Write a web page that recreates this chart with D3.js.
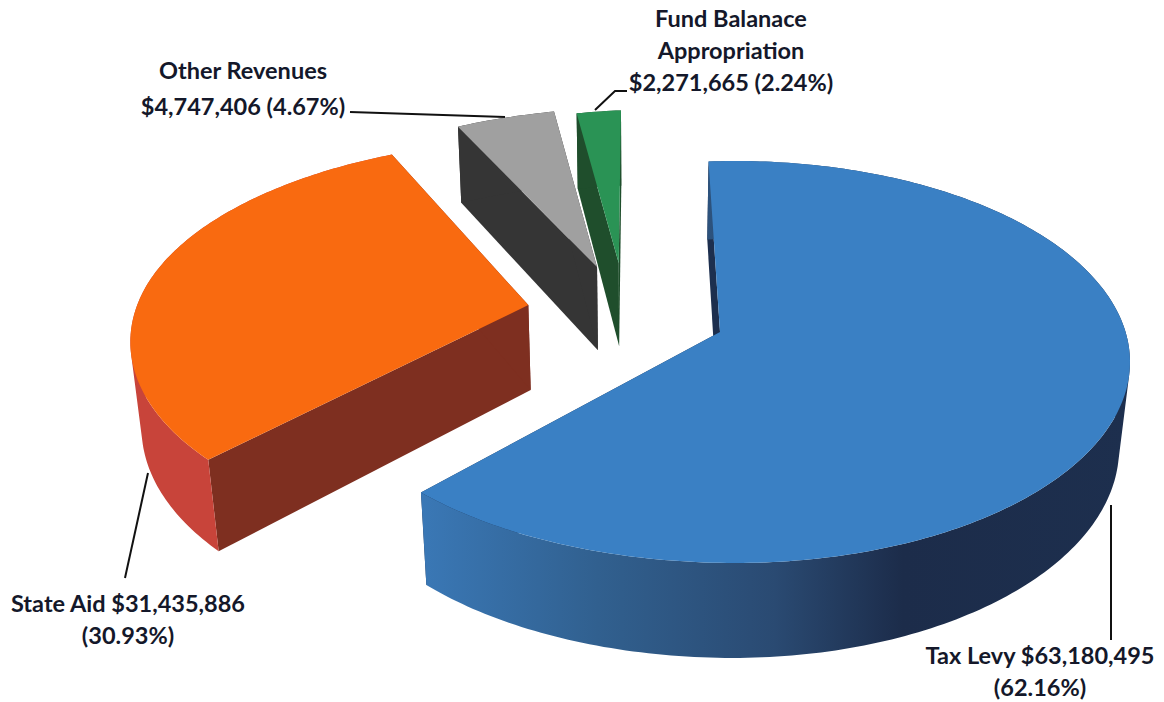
<!DOCTYPE html>
<html>
<head>
<meta charset="utf-8">
<script src="https://cdnjs.cloudflare.com/ajax/libs/d3/7.8.5/d3.min.js"></script>
<style>
  html, body { margin: 0; padding: 0; background: #fff; }
  text { font-family: Lato, "Open Sans", sans-serif; font-weight: 700; fill: #14182a; text-anchor: middle; }
</style>
</head>
<body>
<svg width="1164" height="702"></svg>
<script>
const categories = ['Tax Levy', 'State Aid', 'Other Revenues', 'Fund Balanace Appropriation'];
const amounts = [63180495, 31435886, 4747406, 2271665];
const labelLines = [
  ['Tax Levy $63,180,495', '(62.16%)'],
  ['State Aid $31,435,886', '(30.93%)'],
  ['Other Revenues', '$4,747,406 (4.67%)'],
  ['Fund Balanace', 'Appropriation', '$2,271,665 (2.24%)']
];

// styling for each slice
const topColors = ['#3a80c4', '#f96a10', '#a0a0a0', '#2a9355'];
const sideColors = ['#1d2f4e', '#7e2f20', '#353535', '#1f4e2c'];
const rimColors = [null, '#c8443a', '#353535', '#1f4e2c'];
// slice shift on the pie plane, pie radius = 1
const shifts = [[0, 0], [-0.512, 0.144], [-0.337, 0.353], [-0.278, 0.375]];
// the left side of the picture is nearer to the camera
const leftStretch = [1.05, 1.11, 1.08, 1.0];
const farStretch = [1, 1.03, 1.04, 1.0];
const nearStretch = [1, 1.072, 1, 1];
const depthShear = [0, 0.05, 0, 0];
const labelAnchors = [[1040, 664], [128, 612], [243, 79], [731, 27]];
const leaders = [
  [[1111, 505], [1111, 640]],
  [[148, 473], [125, 578]],
  [[350, 112], [505, 117]],
  [[627, 91], [615, 91], [595, 110]]
];

const ellipse = {cx: 735, cy: 362, rx: 395, ry: 201};
const apex = {x: 720, y: 332};
const vanish = {x: 640, y: 3300, lean: 0.75};
const startDeg = -2;

const xScale = d3.scaleLinear().domain([-1, 1]).range([ellipse.cx - ellipse.rx, ellipse.cx + ellipse.rx]);
const yScale = d3.scaleLinear().domain([-1, 1]).range([ellipse.cy + ellipse.ry, ellipse.cy - ellipse.ry]);

// perspective: moves the pie centre to the apex, keeps the unit circle on the ellipse
const c = [xScale.invert(apex.x), yScale.invert(apex.y)];
const s = Math.hypot(c[0], c[1]);
const dir = [c[0] / s, c[1] / s];
const squeeze = Math.sqrt(1 - s * s);

function project(u, v) {
  const par = u * dir[0] + v * dir[1];
  const perp = [u - par * dir[0], v - par * dir[1]];
  const w = 1 + c[0] * u + c[1] * v;
  return [
    xScale(((par + s) * dir[0] + squeeze * perp[0]) / w),
    yScale(((par + s) * dir[1] + squeeze * perp[1]) / w)
  ];
}

// same point at the bottom of the slab
function drop(p) {
  const t = 0.0209 + 0.0000245 * p[1];
  return [p[0] + vanish.lean * t * (vanish.x - p[0]), p[1] + t * (vanish.y - p[1])];
}

const pie = d3.pie().sort(null)
  .startAngle(startDeg * Math.PI / 180)
  .endAngle((startDeg + 360) * Math.PI / 180);
const arcs = pie(amounts);

const svg = d3.select('svg');
const line = d3.line();

const gradient = svg.append('defs').append('linearGradient')
  .attr('id', 'taxRim')
  .attr('gradientUnits', 'userSpaceOnUse')
  .attr('x1', 420).attr('x2', 1130).attr('y1', 0).attr('y2', 0);
gradient.selectAll('stop')
  .data([[0, '#3a78b6'], [0.25, '#31608f'], [0.5, '#2a4a72'], [0.68, '#1c2c4a'], [1, '#1d2f4e']])
  .enter().append('stop')
  .attr('offset', d => d[0])
  .attr('stop-color', d => d[1]);

// far slices first
const order = [3, 2, 1, 0];
const slices = svg.selectAll('g.slice')
  .data(order)
  .enter().append('g')
  .attr('class', 'slice');

slices.each(function(i) {
  const g = d3.select(this);
  const a = arcs[i];
  const [dx, dy] = shifts[i];
  const steps = Math.max(4, Math.ceil((a.endAngle - a.startAngle) * 60));
  const edge = d3.range(steps + 1).map(k => {
    const t = a.startAngle + (a.endAngle - a.startAngle) * k / steps;
    const u = Math.sin(t) < 0 ? Math.sin(t) * leftStretch[i] : Math.sin(t);
    const v = Math.cos(t) * (Math.cos(t) < 0 ? nearStretch[i] : farStretch[i]);
    return project(u + dx, v - u * depthShear[i] + dy);
  });
  const centre = project(dx, dy);
  const first = edge[0];
  const last = edge[edge.length - 1];

  // one hull per arc step, so the wall also fills up to the tangent at the sides
  const rim = d3.pairs(edge).map(([p, q]) =>
    line(d3.polygonHull([p, q, drop(q), drop(p)])) + 'Z').join('');

  g.append('path').attr('fill', sideColors[i])
    .attr('d', line([centre, first, drop(first), drop(centre)]) + 'Z');
  g.append('path').attr('fill', sideColors[i])
    .attr('d', line([centre, last, drop(last), drop(centre)]) + 'Z');
  g.append('path').attr('fill', i === 0 ? 'url(#taxRim)' : rimColors[i])
    .attr('d', rim);
  g.append('path').attr('fill', topColors[i])
    .attr('d', line([centre].concat(edge)) + 'Z');
});

svg.selectAll('path.leader')
  .data(leaders)
  .enter().append('path')
  .attr('class', 'leader')
  .attr('fill', 'none')
  .attr('stroke', '#111')
  .attr('stroke-width', 2)
  .attr('d', d => line(d));

labelLines.forEach((lines, i) => {
  const label = svg.append('text')
    .attr('data-category', categories[i])
    .attr('font-size', 23.5);
  lines.forEach((t, k) => {
    label.append('tspan')
      .attr('x', labelAnchors[i][0])
      .attr('y', labelAnchors[i][1] + k * (i === 2 ? 36 : 32))
      .text(t);
  });
});
</script>
</body>
</html>
